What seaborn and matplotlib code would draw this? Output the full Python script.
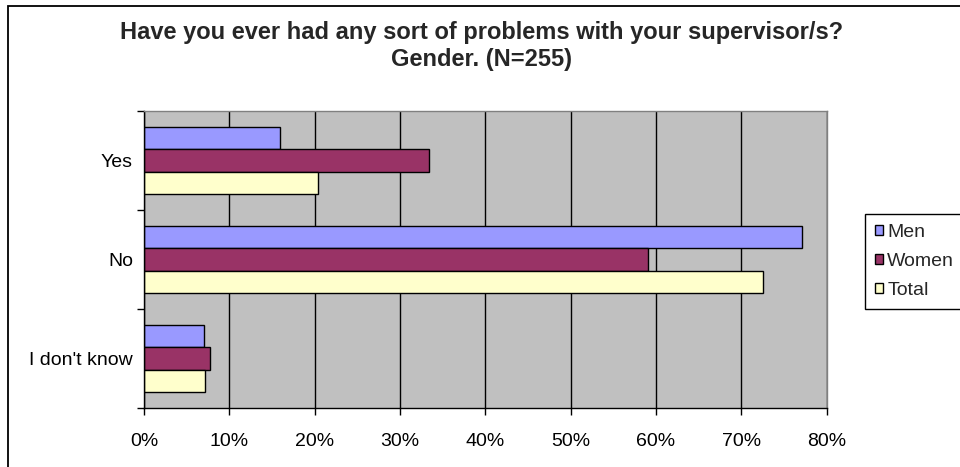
import matplotlib
matplotlib.use("Agg")
import matplotlib.pyplot as plt
import seaborn as sns
import pandas as pd
from matplotlib.patches import Rectangle

# values (percent)
answers = ["Yes", "No", "I don't know"]
groups = ["Men", "Women", "Total"]
men = [15.9, 77.1, 7.0]
women = [33.4, 59.1, 7.7]
total = [20.4, 72.5, 7.1]
x_ticks = [0, 10, 20, 30, 40, 50, 60, 70, 80]
colors = ["#9999FF", "#993366", "#FFFFCC"]

df = pd.DataFrame({
    "answer": answers * 3,
    "group": ["Men"] * 3 + ["Women"] * 3 + ["Total"] * 3,
    "value": men + women + total,
})

sns.set_theme(style="white")
plt.rcParams['font.family'] = ['Liberation Sans', 'DejaVu Sans']

fig = plt.figure(figsize=(9.6, 4.67), dpi=100)
ax = fig.add_axes([144 / 960, 1 - 408 / 467, 682.7 / 960, 297 / 467])

sns.barplot(data=df, y="answer", x="value", hue="group", order=answers,
            hue_order=groups, palette=colors, saturation=1, width=0.667,
            edgecolor="black", linewidth=1, orient="h", ax=ax)

ax.set_facecolor("#C0C0C0")
ax.set_xlim(0, 80)
ax.set_xticks(x_ticks)
ax.set_xticklabels([f"{t}%" for t in x_ticks])
ax.xaxis.grid(True, color="black", linewidth=1)
ax.yaxis.grid(False)
ax.set_axisbelow(True)
ax.set_xlabel("")
ax.set_ylabel("")

# category boundary ticks on the y axis
ax.set_yticks([-0.5, 0.5, 1.5, 2.5], minor=True)
ax.tick_params(axis="y", which="major", left=False, length=0, pad=8, labelsize=14, labelcolor="black")
ax.tick_params(axis="y", which="minor", left=True, length=5, width=1, color="black", direction="out")
ax.tick_params(axis="x", bottom=True, length=5, width=1, color="black", direction="out",
               pad=13, labelsize=14, labelcolor="black")

for side in ["left", "bottom"]:
    ax.spines[side].set_color("black")
    ax.spines[side].set_linewidth(1)
for side in ["top", "right"]:
    ax.spines[side].set_color("#808080")
    ax.spines[side].set_linewidth(1)

handles, labels = ax.get_legend_handles_labels()
ax.get_legend().remove()
leg = fig.legend(handles, labels, loc="upper left", mode="expand",
                 bbox_to_anchor=(865 / 960, 1 - 305 / 467, 0.2, 91 / 467),
                 fontsize=14, frameon=True, fancybox=False, framealpha=1,
                 edgecolor="black", handlelength=0.45, handleheight=0.45,
                 handletextpad=0.2, labelspacing=0.62, borderpad=0.5,
                 borderaxespad=0)
leg.get_frame().set_linewidth(1)

fig.text(0.502, 1 - 21 / 467,
         "Have you ever had any sort of problems with your supervisor/s?\nGender. (N=255)",
         ha="center", va="top", fontsize=17, fontweight="bold", linespacing=1.2)

# outer chart frame
fig.patches.append(Rectangle((8 / 960, -0.1), 1.2, 1.1 - 6 / 467,
                             transform=fig.transFigure, fill=False,
                             edgecolor="black", linewidth=1.3))

fig.savefig("out.png", dpi=100)
